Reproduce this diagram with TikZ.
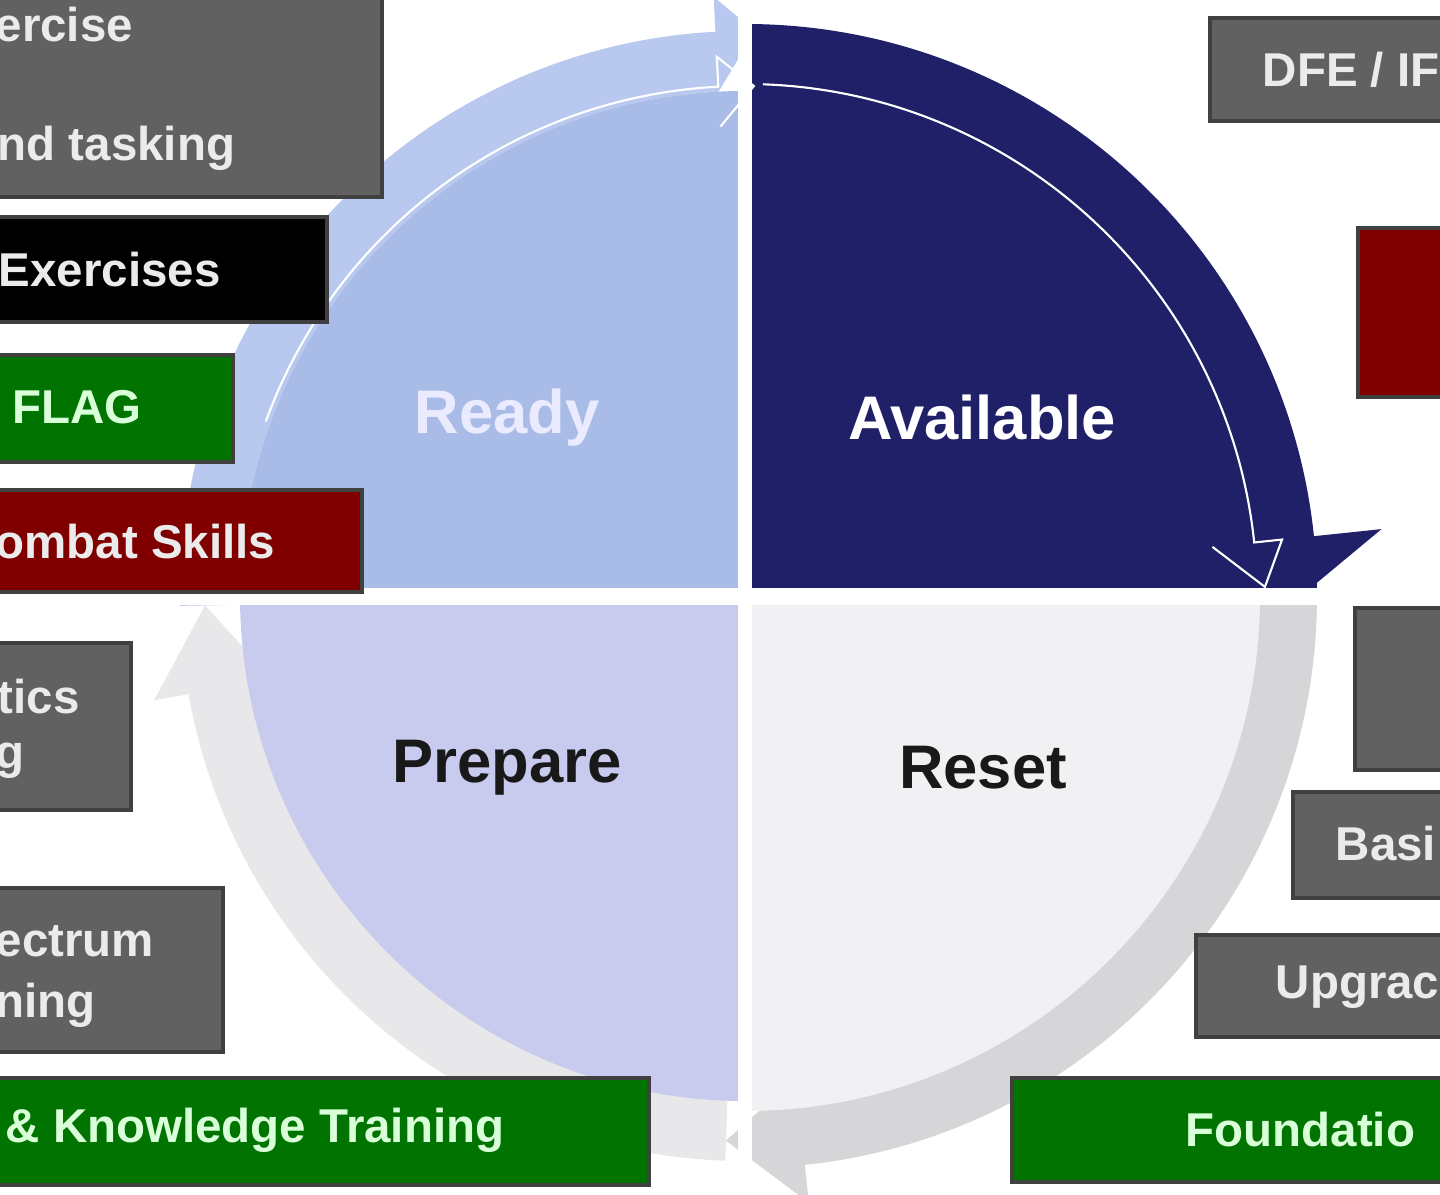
\documentclass[tikz,border=0pt]{standalone}
\usepackage{fontspec}
\setmainfont{Liberation Sans}
\begin{document}
\begin{tikzpicture}[x=0.01cm,y=0.01cm,
  box/.style={draw=black!75,line width=1pt},
  gbox/.style={box,fill=black!62},
  kbox/.style={box,fill=black},
  grbox/.style={box,fill=green!45!black,draw=black!75},
  rbox/.style={box,fill=red!50!black},
  btxt/.style={font=\fontsize{13.5}{16}\selectfont\bfseries,text=white!92!black,inner sep=0pt},
  gtxt/.style={btxt,text=green!15!white},
  ctxt/.style={font=\fontsize{17.5}{20}\selectfont\bfseries,inner sep=0pt}]
\definecolor{readyc}{HTML}{A9BCE8}
\definecolor{readyb}{HTML}{B8C8EE}
\definecolor{navy}{HTML}{1F2068}
\definecolor{prepc}{HTML}{C8CAEE}
\definecolor{prepb}{HTML}{E8E8EA}
\definecolor{resetc}{HTML}{F1F1F3}
\definecolor{resetb}{HTML}{D6D6D8}
\useasboundingbox (0,0) rectangle (1440,1194);
\clip (0,0) rectangle (1440,1194);
\fill[white] (0,0) rectangle (1440,1194);
\begin{scope}[shift={(745,598)}]
  % bands
  \fill[readyb] (181:505) -- (181:565) arc (181:93:565) -- (93:600) -- (89:565) -- (93:505) arc (93:181:505) -- cycle;
  \fill[prepb] (268:505) -- (268:565) arc (268:190:565) -- (190:600) -- (181:540) -- (190:480) -- cycle;
  \fill[resetb] (0:515) -- (0:572) arc (0:-84:572) -- (-84:610) -- (-92:545) -- (-84:485) -- cycle;
  % sectors
  \fill[readyc] (0,0) -- (180:505) arc (180:90:505) -- cycle;
  \fill[prepc] (0,0) -- (180:505) arc (180:270:505) -- cycle;
  \fill[resetc] (0,0) -- (0:515) arc (0:-90:515) -- cycle;
  \fill[navy] (0,0) -- (90:572) arc (90:0:572) -- cycle;
  \fill[navy] (6:480) -- (6:640) -- (0:556) -- cycle;
  % white inner arrows
  \draw[white,line width=0.6pt] (160:510) arc (160:93:510) -- (93:540) -- (89:510) -- (93:470);
  \draw[white,line width=0.6pt] (88:512) arc (88:6:512) -- (6:540) -- (1:520) -- (6:470);
  % gaps
  \fill[white] (-7,-620) rectangle (7,620);
  \fill[white] (-700,-9) rectangle (700,8);
  \node[ctxt,text=white!92!blue] (ready) at (-238,178) {Ready};
  \node[ctxt,text=white] (avail) at (237,178) {Available};
  \node[ctxt,text=black!90] (prep) at (-238,-172) {Prepare};
  \node[ctxt,text=black!90] (reset) at (238,-172) {Reset};
\end{scope}
% left boxes
\draw[gbox] (-10,997) rectangle (382,1204);
\node[btxt,anchor=west] (t1) at (-5,1169) {ercise};
\node[btxt,anchor=west] (t2) at (-3,1046) {nd tasking};
\draw[kbox] (-10,872) rectangle (327,977);
\node[btxt,anchor=west] (t3) at (-2,924) {Exercises};
\draw[grbox] (-10,732) rectangle (233,839);
\node[gtxt,anchor=west] (t4) at (12,787) {FLAG};
\draw[rbox] (-10,602) rectangle (362,704);
\node[btxt,anchor=west] (t5) at (-5,652) {ombat Skills};
\draw[gbox] (-10,384) rectangle (131,551);
\node[btxt,anchor=west] (t6) at (-3,497) {tics};
\node[btxt,anchor=west] (t7) at (-5,433) {g};
\draw[gbox] (-10,142) rectangle (223,306);
\node[btxt,anchor=west] (t8) at (-5,253) {ectrum};
\node[btxt,anchor=west] (t9) at (-5,189) {ning};
\draw[grbox] (-10,9) rectangle (649,116);
\node[gtxt,anchor=west] (t10) at (5,64) {\& Knowledge Training};
% right boxes
\draw[gbox] (1210,1073) rectangle (1450,1176);
\node[btxt,anchor=west] (t11) at (1262,1124) {DFE / IF};
\draw[rbox] (1358,797) rectangle (1450,966);
\draw[gbox] (1355,424) rectangle (1450,586);
\draw[gbox] (1293,296) rectangle (1450,402);
\node[btxt,anchor=west] (t12) at (1335,350) {Basi};
\draw[gbox] (1196,157) rectangle (1450,259);
\node[btxt,anchor=west] (t13) at (1275,207) {Upgrac};
\draw[grbox] (1012,12) rectangle (1450,116);
\node[gtxt,anchor=west] (t14) at (1185,64) {Foundatio};
\end{tikzpicture}
\end{document}
